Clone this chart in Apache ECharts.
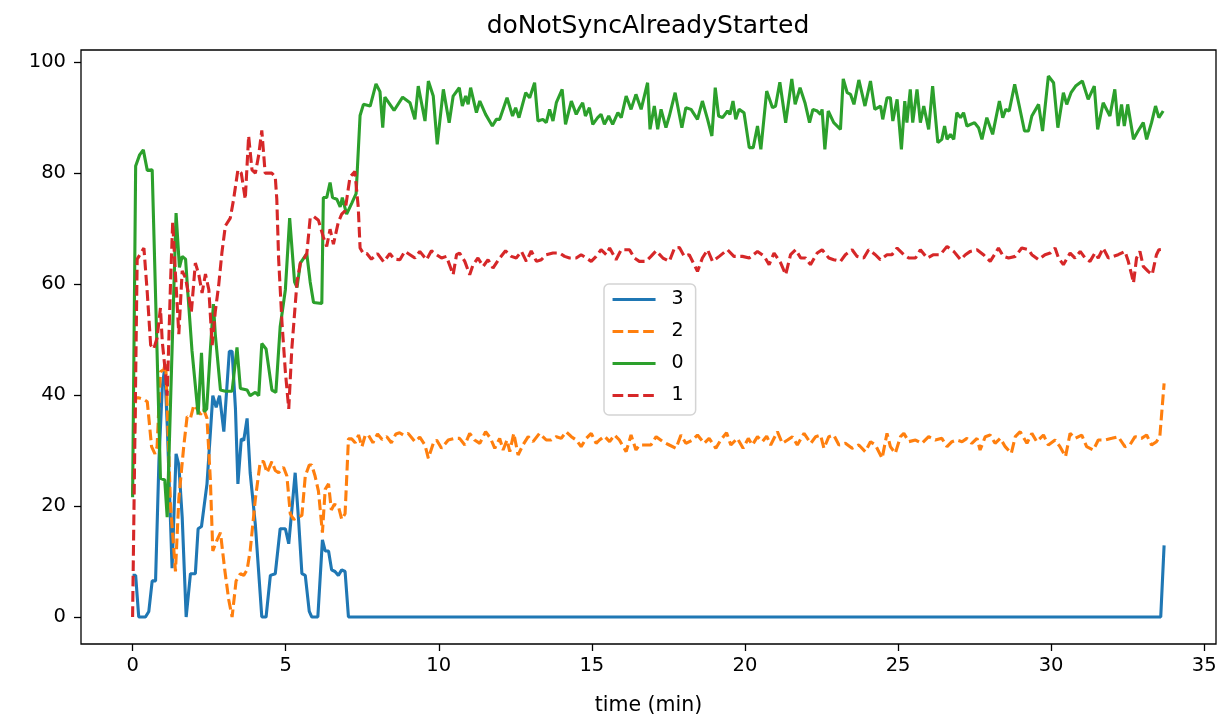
<!DOCTYPE html>
<html>
<head>
<meta charset="utf-8">
<script src="https://cdn.jsdelivr.net/npm/echarts@6/dist/echarts.min.js"></script>
<style>
    html, body { margin: 0; padding: 0; background: #fff; }
    #chart { width: 1220px; height: 721px; }
</style>
</head>
<body>
<div id="chart"></div>
<script>
// values (time in minutes, value in %)
var xTicks = [0, 5, 10, 15, 20, 25, 30, 35];
var yTicks = [0, 20, 40, 60, 80, 100];

// series "3"
var t3 = [0, 0.1, 0.2, 0.42, 0.53, 0.64, 0.75, 0.86, 0.97, 1.05, 1.13, 1.29, 1.42, 1.51, 1.62, 1.75, 1.89, 2.05, 2.14, 2.25,
    2.43, 2.62, 2.73, 2.84, 2.98, 3.16, 3.25, 3.36, 3.44, 3.55, 3.63, 3.74, 3.84, 4.01, 4.22, 4.36, 4.5, 4.66, 4.82, 4.99,
    5.1, 5.18, 5.31, 5.42, 5.53, 5.64, 5.77, 5.85, 6.05, 6.2, 6.29, 6.4, 6.5, 6.61, 6.72, 6.83, 6.94, 7.05, 33.58, 33.69];
var v3 = [7.5, 7.5, 0, 0, 1, 6.5, 6.5, 28, 41.5, 45, 34.8, 8.8, 29.4, 27.4, 18, 0, 7.8, 7.8, 15.9, 16.3,
    24, 39.9, 37.8, 39.9, 33.4, 47.9, 47.9, 37.5, 24, 32.1, 31.8, 35.8, 26, 16.6, 0, 0, 7.5, 7.8, 15.9, 15.9,
    13.2, 18, 26, 17.6, 7.8, 7.5, 1, 0, 0, 13.9, 11.9, 11.9, 8.5, 8.2, 7.5, 8.5, 8.2, 0, 0, 12.9];

// series "2"
var t2 = [0, 0.1, 0.21, 0.37, 0.48, 0.62, 0.73, 0.8, 0.91, 1.02, 1.08, 1.24, 1.4, 1.51, 1.67, 1.78, 1.89, 2.0, 2.11, 2.22,
    2.32, 2.43, 2.54, 2.62, 2.76, 2.87, 3.01, 3.14, 3.25, 3.38, 3.52, 3.63, 3.74, 3.84, 4.01, 4.17, 4.28, 4.39, 4.55, 4.66,
    4.77, 4.93, 5.04, 5.15, 5.26, 5.42, 5.53, 5.64, 5.77, 5.85, 5.96, 6.07, 6.2, 6.29, 6.4, 6.49, 6.59, 6.72, 6.83, 6.94,
    7.05, 7.16, 7.27, 7.38, 7.49, 7.6, 7.7, 7.85, 8.0, 8.15, 8.3, 8.45, 8.6, 8.72, 8.84, 9.0, 9.22, 9.38, 9.55, 9.66,
    9.82, 9.93, 10.09, 10.31, 10.52, 10.68, 10.85, 11.01, 11.17, 11.34, 11.53, 11.69, 11.83, 11.99, 12.1, 12.23, 12.32, 12.45, 12.59, 12.75,
    12.92, 13.08, 13.29, 13.51, 13.67, 13.84, 14.0, 14.16, 14.33, 14.49, 14.65, 14.82, 14.98, 15.14, 15.25, 15.41, 15.58, 15.74, 15.9, 16.12,
    16.28, 16.44, 16.55, 16.77, 16.93, 17.1, 17.32, 17.53, 17.75, 17.91, 18.07, 18.29, 18.45, 18.67, 18.83, 19.05, 19.21, 19.4, 19.54, 19.75,
    19.94, 20.11, 20.24, 20.41, 20.57, 20.71, 20.84, 21.06, 21.22, 21.39, 21.55, 21.71, 21.93, 22.15, 22.31, 22.47, 22.58, 22.74, 22.9, 23.07,
    23.28, 23.5, 23.72, 23.93, 24.1, 24.26, 24.48, 24.64, 24.75, 24.91, 25.08, 25.19, 25.35, 25.57, 25.78, 26.0, 26.22, 26.43, 26.6, 26.76,
    26.92, 27.09, 27.25, 27.41, 27.58, 27.68, 27.85, 28.01, 28.17, 28.34, 28.5, 28.7, 28.83, 28.99, 29.21, 29.37, 29.53, 29.75, 29.91, 30.13,
    30.29, 30.47, 30.62, 30.78, 31.0, 31.16, 31.38, 31.54, 31.76, 31.98, 32.19, 32.41, 32.57, 32.74, 32.95, 33.12, 33.28, 33.44, 33.55, 33.69];
var v2 = [22, 39.5, 39.5, 39.2, 38.8, 30.7, 29.4, 30.7, 44.2, 44.6, 46, 20, 8.2, 21.3, 30.7, 36.1, 35.8, 38.2, 37.5, 36.5,
    37.5, 35.8, 24.7, 11.9, 13.9, 15.2, 8.5, 3.1, 0, 6.5, 7.8, 7.5, 8.5, 11.9, 21.3, 28, 28, 26, 28, 26.4,
    26, 27, 25.4, 18.6, 17.6, 18, 18.3, 25.4, 27.4, 27.4, 25.4, 22.7, 15.2, 23, 24, 19.3, 20.3, 20, 17.6, 18.6,
    32.1, 32.1, 31.4, 32.8, 30.7, 32.8, 32.8, 31.4, 33, 32, 32.5, 31.4, 33, 33.2, 32.8, 33.1, 31.6, 32.4, 31, 28.6,
    31.3, 31.9, 30.4, 31.9, 32.2, 32.2, 31, 33.1, 31.9, 31.3, 33.4, 32.2, 30.4, 32.2, 30.1, 31.9, 29.8, 33.1, 29.2, 31,
    32.5, 31.6, 33.1, 31.9, 31.9, 32.5, 32.2, 33.4, 32.5, 31.9, 30.7, 32.2, 33.1, 31.3, 31.9, 32.6, 31.6, 32.8, 31.9, 29.8,
    32.8, 30.1, 31, 31, 31, 32.5, 31.6, 31, 30.4, 32.8, 31.3, 31.9, 32.8, 31.3, 32.2, 30.4, 31.9, 33.2, 31, 32.2,
    30.4, 32.2, 31, 32.5, 31.6, 32.6, 31, 33.4, 31.3, 31.9, 32.5, 31, 33.1, 31.3, 32.5, 32.8, 30.4, 32.5, 32.8, 31,
    31.3, 30.4, 31, 29.8, 31.6, 31, 28.6, 33.1, 30.7, 29.5, 32.5, 33.1, 31.6, 31.9, 31.3, 32.5, 31.9, 32.2, 30.7, 31.6,
    31.9, 31.6, 32.2, 31.3, 32.2, 30.1, 32.5, 32.8, 31.3, 32.2, 30.7, 29.5, 32.5, 33.4, 31.3, 33.1, 31.6, 32.8, 31, 31.9,
    30.7, 28.9, 33.1, 32.2, 32.8, 30.7, 30.1, 31.9, 31.9, 32.2, 32.5, 30.7, 31, 32.5, 32.2, 32.8, 31, 31.6, 32.5, 42.1];

// series "0"
var t0 = [0, 0.1, 0.23, 0.35, 0.48, 0.64, 0.91, 1.05, 1.13, 1.42, 1.53, 1.62, 1.73, 1.81, 1.94, 2.14, 2.25, 2.34, 2.42, 2.55,
    2.64, 2.7, 2.87, 3.03, 3.25, 3.41, 3.52, 3.74, 3.84, 4.01, 4.12, 4.22, 4.36, 4.55, 4.68, 4.82, 4.99, 5.13, 5.29, 5.37,
    5.48, 5.69, 5.8, 5.91, 6.18, 6.23, 6.34, 6.45, 6.53, 6.67, 6.78, 6.85, 6.99, 7.16, 7.3, 7.43, 7.54, 7.76, 7.95, 8.08,
    8.17, 8.24, 8.54, 8.82, 9.06, 9.22, 9.33, 9.55, 9.66, 9.82, 9.95, 10.15, 10.34, 10.47, 10.67, 10.77, 10.88, 10.96, 11.04, 11.23,
    11.34, 11.53, 11.75, 11.88, 11.99, 12.23, 12.41, 12.51, 12.62, 12.84, 12.97, 13.13, 13.24, 13.4, 13.51, 13.62, 13.73, 13.84, 14.03, 14.14,
    14.33, 14.49, 14.6, 14.7, 14.79, 14.92, 15.03, 15.19, 15.3, 15.41, 15.55, 15.68, 15.85, 15.96, 16.12, 16.28, 16.44, 16.61, 16.82, 16.9,
    17.04, 17.15, 17.26, 17.42, 17.53, 17.72, 17.94, 18.07, 18.24, 18.45, 18.61, 18.78, 18.92, 19.03, 19.14, 19.27, 19.43, 19.51, 19.61, 19.7,
    19.81, 19.97, 20.14, 20.27, 20.41, 20.52, 20.71, 20.9, 21.0, 21.14, 21.33, 21.53, 21.64, 21.8, 21.96, 22.11, 22.22, 22.36, 22.47, 22.52,
    22.61, 22.72, 22.9, 23.12, 23.21, 23.34, 23.45, 23.56, 23.72, 23.92, 24.1, 24.24, 24.43, 24.5, 24.64, 24.75, 24.83, 24.97, 25.11, 25.22,
    25.29, 25.4, 25.48, 25.62, 25.73, 25.84, 26.0, 26.13, 26.3, 26.43, 26.52, 26.6, 26.71, 26.82, 26.92, 27.04, 27.14, 27.25, 27.5, 27.63,
    27.74, 27.9, 28.09, 28.31, 28.42, 28.52, 28.63, 28.81, 28.96, 29.13, 29.26, 29.37, 29.59, 29.72, 29.91, 30.08, 30.22, 30.4, 30.51, 30.65,
    30.8, 31.02, 31.21, 31.41, 31.52, 31.7, 31.92, 32.08, 32.19, 32.3, 32.39, 32.5, 32.69, 32.84, 33.01, 33.12, 33.28, 33.41, 33.52, 33.66];
var v0 = [21.6, 81.3, 83.3, 84.2, 80.5, 80.6, 25, 24.7, 18, 72.8, 63, 65, 64.5, 58, 48, 36.5, 47.6, 37, 37.5, 49,
    56.4, 51, 40.9, 40.7, 40.7, 48.6, 41.2, 40.9, 39.9, 40.5, 39.9, 49.3, 48.3, 40.9, 40.5, 52.3, 59, 71.9, 60.4, 59.4,
    63.8, 65.5, 60.4, 56.7, 56.5, 75.6, 75.6, 78.3, 75.6, 75.3, 73.9, 75.6, 72.6, 74.6, 76.3, 90.4, 92.4, 92.1, 96.1, 94.7,
    88.2, 93.7, 91.3, 93.7, 92.7, 89.7, 95.7, 89.4, 96.6, 93.9, 85.2, 95.1, 89.1, 93.9, 95.4, 92.1, 93.9, 92.4, 95.4, 90.9,
    93, 90.6, 88.5, 89.7, 89.7, 93.6, 90.3, 91.8, 90, 94.5, 93.6, 96.3, 89.4, 89.7, 89.1, 91.5, 89.4, 92.7, 95.1, 88.8,
    93, 90.6, 91.8, 92.7, 90.3, 91.8, 88.8, 90, 90.6, 88.8, 90.3, 88.8, 90.9, 90, 93.9, 91.5, 94.2, 91.5, 96.3, 87.9,
    92.1, 87.9, 91.5, 88.2, 90.3, 94.5, 88.2, 91.8, 91.5, 89.7, 93, 89.7, 86.7, 95.4, 90.3, 90, 91.2, 90.6, 93, 89.7,
    91.5, 90.9, 84.6, 84.6, 88.5, 84.3, 94.8, 91.8, 92.1, 96.4, 89.1, 97, 92.4, 95.4, 92.7, 89.1, 91.5, 91.2, 90.6, 91.5,
    84.3, 91.2, 89.1, 87.9, 97, 94.5, 94.2, 92.4, 96.8, 92.1, 96.6, 91.5, 92.1, 89.7, 93.6, 93.6, 89.4, 93.3, 84.3, 93,
    89.1, 95.1, 89.1, 95.1, 89.1, 92.1, 87.9, 95.7, 85.5, 86.1, 88.5, 86.1, 87, 86.1, 90.9, 90, 90.9, 88.5, 89.1, 88.2,
    86.1, 90, 87, 93, 90, 91.5, 91.2, 96, 92.1, 87.6, 87.6, 90.3, 92.4, 87.6, 97.5, 96.3, 88.2, 94.5, 92.4, 94.5,
    95.7, 96.6, 93.3, 95.7, 87.9, 92.7, 90.3, 95.1, 88.5, 92.4, 88.5, 92.4, 86.1, 87.6, 89.1, 86.1, 89.1, 92.1, 90, 91.2];

// series "1"
var t1 = [0, 0.15, 0.26, 0.37, 0.48, 0.59, 0.69, 0.8, 0.91, 0.97, 1.08, 1.13, 1.24, 1.31, 1.4, 1.51, 1.62, 1.73, 1.84, 1.92,
    2.05, 2.16, 2.27, 2.38, 2.49, 2.6, 2.7, 2.81, 2.92, 3.03, 3.19, 3.3, 3.44, 3.55, 3.68, 3.79, 3.9, 4.01, 4.12, 4.22,
    4.33, 4.55, 4.66, 4.71, 4.77, 4.88, 4.99, 5.1, 5.2, 5.37, 5.48, 5.59, 5.69, 5.8, 5.91, 6.07, 6.23, 6.34, 6.45, 6.56,
    6.72, 6.83, 6.94, 7.1, 7.26, 7.37, 7.43, 7.54, 7.65, 7.8, 8.0, 8.2, 8.4, 8.55, 8.73, 8.89, 9.06, 9.22, 9.38, 9.6,
    9.76, 9.93, 10.09, 10.25, 10.47, 10.58, 10.68, 10.85, 11.01, 11.12, 11.28, 11.45, 11.61, 11.77, 11.99, 12.18, 12.37, 12.53, 12.7, 12.86,
    13.02, 13.19, 13.35, 13.51, 13.73, 13.95, 14.11, 14.27, 14.49, 14.65, 14.82, 14.98, 15.14, 15.3, 15.47, 15.58, 15.79, 15.96, 16.23, 16.39,
    16.55, 16.77, 16.93, 17.1, 17.32, 17.53, 17.7, 17.86, 18.02, 18.18, 18.45, 18.61, 18.78, 18.94, 19.16, 19.43, 19.64, 19.92, 20.14, 20.41,
    20.63, 20.79, 20.95, 21.17, 21.33, 21.49, 21.66, 21.82, 21.98, 22.14, 22.36, 22.52, 22.74, 22.9, 23.12, 23.28, 23.5, 23.66, 23.88, 24.04,
    24.26, 24.42, 24.64, 24.8, 24.97, 25.19, 25.35, 25.57, 25.73, 25.95, 26.16, 26.38, 26.6, 26.82, 27.04, 27.2, 27.36, 27.58, 27.79, 28.01,
    28.15, 28.28, 28.44, 28.61, 28.83, 29.04, 29.26, 29.37, 29.59, 29.8, 29.97, 30.13, 30.24, 30.4, 30.62, 30.78, 30.95, 31.11, 31.27, 31.43,
    31.54, 31.7, 31.87, 32.03, 32.19, 32.41, 32.52, 32.63, 32.69, 32.79, 32.9, 33.01, 33.17, 33.3, 33.44, 33.52, 33.68];
var v1 = [0, 64.5, 65.5, 66.5, 58.4, 49, 48.3, 50.3, 55.7, 49.6, 43.6, 39.9, 60.4, 71.2, 61.8, 51, 62.4, 61.1, 57.7, 55,
    63.8, 61.8, 58.4, 61.8, 59, 49, 55, 59.7, 65.8, 70.5, 71.9, 75.3, 80.6, 80, 75.3, 86.7, 80.6, 80, 83.3, 87.7,
    80, 80, 79.3, 75.3, 64.5, 53, 44.2, 37.5, 48.3, 60.4, 63.8, 64.5, 65.5, 71.9, 72.2, 71.5, 68.5, 66.8, 69.9, 67.2,
    71.2, 72.6, 73.2, 79.3, 80.3, 73.9, 66.5, 65.5, 65.5, 64.5, 65.5, 64, 65.5, 64.5, 64.4, 65.9, 65.3, 64.7, 65.9, 64.4,
    66, 65.3, 64.7, 65, 61.7, 65.3, 65.6, 64.1, 61.7, 63.5, 64.7, 63.2, 64.4, 62.9, 64.7, 66, 65, 64.7, 65.9, 64.1,
    66, 64.1, 64.4, 65.3, 65.6, 65.6, 65, 64.7, 64.7, 65.3, 64.7, 64.1, 65, 66.2, 65.3, 66.5, 64.4, 66.2, 66.2, 64.7,
    64.1, 64.1, 65, 66, 64.7, 64.1, 66.5, 66.6, 65, 65.3, 62.3, 64.7, 66.2, 64.1, 65, 66.2, 65, 65, 64.7, 65.9,
    65, 63.5, 65.6, 63.8, 61.7, 65.3, 66.2, 64.7, 64.7, 63.5, 65.6, 66.2, 64.7, 64.4, 64.1, 65.3, 66.2, 65, 64.7, 66.2,
    65.3, 64.4, 65.3, 65.3, 66.5, 65.3, 64.7, 64.7, 66.2, 64.7, 65.3, 65.3, 66.8, 65.9, 64.4, 65.3, 65.9, 66.2, 65.3, 64.1,
    65.3, 66.5, 65, 64.7, 65, 66.5, 66.2, 65.3, 64.4, 65.3, 65.6, 66.5, 64.7, 63.5, 65.6, 64.7, 65.9, 64.7, 64.1, 65.6,
    64.7, 66.5, 64.7, 65, 65.3, 65.9, 64.1, 61.7, 60.2, 64.7, 65.9, 63.2, 62.3, 61.7, 65.3, 66.2, 66.3];

function pairs(ts, vs) {
    return ts.map(function (t, i) { return [t, vs[i]]; });
}

var font = 'DejaVu Sans';
var dash = [10.7, 4.6];
var lw = 3.1;

var option = {
    animation: false,
    backgroundColor: '#fff',
    title: {
        text: 'doNotSyncAlreadyStarted',
        left: 648,
        top: 14,
        textAlign: 'center',
        padding: 0,
        textStyle: { fontFamily: font, fontSize: 25, fontWeight: 'normal', color: '#000' }
    },
    grid: {
        left: 81, right: 4, top: 50, bottom: 72,
        show: true, borderColor: '#000', borderWidth: 1.3, backgroundColor: 'transparent'
    },
    legend: {
        data: ['3', '2', '0', '1'],
        orient: 'vertical',
        left: 604,
        top: 284,
        itemWidth: 43,
        itemHeight: 14,
        itemGap: 13,
        padding: [6, 12, 10, 7],
        borderColor: '#d4d4d4',
        borderWidth: 1.5,
        borderRadius: 5,
        backgroundColor: 'rgba(255,255,255,0.8)',
        itemStyle: { opacity: 0 },
        lineStyle: { width: lw },
        textStyle: { fontFamily: font, fontSize: 19, color: '#000', padding: [0, 0, 0, 11] }
    },
    xAxis: {
        type: 'value',
        min: -1.685,
        max: 35.385,
        name: 'time (min)',
        nameLocation: 'middle',
        nameGap: 51,
        nameTextStyle: { fontFamily: font, fontSize: 20.5, color: '#000' },
        axisLine: { show: false, onZero: false },
        splitLine: { show: false },
        axisTick: { show: true, length: 7, customValues: xTicks, lineStyle: { color: '#000', width: 1.3 } },
        axisLabel: { customValues: xTicks, fontFamily: font, fontSize: 19.5, color: '#000', margin: 12 }
    },
    yAxis: {
        type: 'value',
        min: -4.87,
        max: 102.2,
        axisLine: { show: false, onZero: false },
        splitLine: { show: false },
        axisTick: { show: true, length: 7, customValues: yTicks, lineStyle: { color: '#000', width: 1.3 } },
        axisLabel: { customValues: yTicks, fontFamily: font, fontSize: 19.5, color: '#000', margin: 15 }
    },
    series: [
        { name: '3', type: 'line', data: pairs(t3, v3), symbol: 'none', lineStyle: { color: '#1f77b4', width: lw }, itemStyle: { color: '#1f77b4' } },
        { name: '2', type: 'line', data: pairs(t2, v2), symbol: 'none', lineStyle: { color: '#ff7f0e', width: lw, type: dash }, itemStyle: { color: '#ff7f0e' } },
        { name: '0', type: 'line', data: pairs(t0, v0), symbol: 'none', lineStyle: { color: '#2ca02c', width: lw }, itemStyle: { color: '#2ca02c' } },
        { name: '1', type: 'line', data: pairs(t1, v1), symbol: 'none', lineStyle: { color: '#d62728', width: lw, type: dash }, itemStyle: { color: '#d62728' } }
    ]
};

var myChart = echarts.init(document.querySelector('#chart'));
myChart.setOption(option);
</script>
</body>
</html>
